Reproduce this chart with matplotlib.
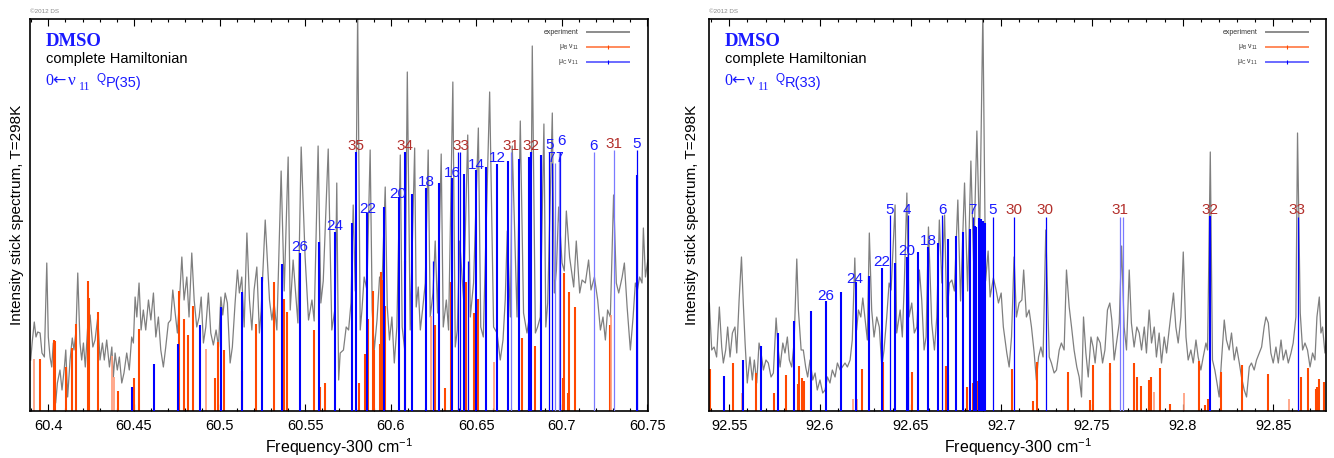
import matplotlib
matplotlib.use('Agg')
import matplotlib.pyplot as plt
from matplotlib.ticker import MultipleLocator, FuncFormatter
from matplotlib.lines import Line2D

plt.rcParams['font.family'] = ['Liberation Sans', 'DejaVu Sans']
plt.rcParams['mathtext.fontset'] = 'custom'
plt.rcParams['mathtext.rm'] = 'Liberation Sans'
plt.rcParams['mathtext.it'] = 'Liberation Sans:italic'
plt.rcParams['mathtext.bf'] = 'Liberation Sans:bold'

# ---------------- left panel: 0<-v11 QP(35) ----------------
qp_xlim = (60.3893, 60.7503)

qp_exp_f = [
    60.3897, 60.3906, 60.3918, 60.3928, 60.3938, 60.3952, 60.3963, 60.3977, 60.3991, 60.4000,
    60.4010, 60.4020, 60.4029, 60.4043, 60.4053, 60.4068, 60.4080, 60.4094, 60.4102, 60.4113,
    60.4127, 60.4140, 60.4150, 60.4162, 60.4172, 60.4185, 60.4195, 60.4205, 60.4216, 60.4232,
    60.4244, 60.4260, 60.4273, 60.4289, 60.4302, 60.4316, 60.4327, 60.4341, 60.4357, 60.4371,
    60.4380, 60.4390, 60.4403, 60.4415, 60.4429, 60.4442, 60.4458, 60.4473, 60.4487, 60.4497,
    60.4507, 60.4517, 60.4530, 60.4542, 60.4555, 60.4569, 60.4585, 60.4599, 60.4614, 60.4628,
    60.4643, 60.4657, 60.4672, 60.4686, 60.4701, 60.4715, 60.4727, 60.4741, 60.4754, 60.4766,
    60.4780, 60.4793, 60.4809, 60.4822, 60.4838, 60.4852, 60.4867, 60.4881, 60.4893, 60.4906,
    60.4920, 60.4935, 60.4949, 60.4964, 60.4980, 60.4994, 60.5008, 60.5019, 60.5033, 60.5046,
    60.5062, 60.5075, 60.5091, 60.5105, 60.5116, 60.5130, 60.5144, 60.5160, 60.5175, 60.5189,
    60.5202, 60.5218, 60.5233, 60.5243, 60.5267, 60.5292, 60.5306, 60.5319, 60.5335, 60.5360,
    60.5378, 60.5401, 60.5413, 60.5430, 60.5458, 60.5477, 60.5500, 60.5520, 60.5540, 60.5553,
    60.5576, 60.5592, 60.5606, 60.5635, 60.5656, 60.5676, 60.5685, 60.5696, 60.5705, 60.5724,
    60.5740, 60.5754, 60.5768, 60.5781, 60.5793, 60.5807, 60.5822, 60.5832, 60.5845, 60.5861,
    60.5880, 60.5892, 60.5904, 60.5920, 60.5935, 60.5949, 60.5968, 60.5980, 60.5993, 60.6007,
    60.6021, 60.6036, 60.6056, 60.6067, 60.6082, 60.6097, 60.6114, 60.6140, 60.6149, 60.6161,
    60.6173, 60.6186, 60.6202, 60.6219, 60.6231, 60.6247, 60.6260, 60.6274, 60.6295, 60.6307,
    60.6325, 60.6338, 60.6363, 60.6377, 60.6389, 60.6403, 60.6426, 60.6450, 60.6465, 60.6484,
    60.6512, 60.6526, 60.6541, 60.6578, 60.6601, 60.6621, 60.6640, 60.6656, 60.6669, 60.6681,
    60.6699, 60.6710, 60.6738, 60.6757, 60.6776, 60.6796, 60.6816, 60.6827, 60.6845, 60.6858,
    60.6874, 60.6895, 60.6906, 60.6917, 60.6944, 60.6956, 60.6968, 60.6981, 60.7001, 60.7014,
    60.7026, 60.7045, 60.7069, 60.7084, 60.7104, 60.7118, 60.7137, 60.7156, 60.7170, 60.7190,
    60.7209, 60.7225, 60.7240, 60.7254, 60.7267, 60.7283, 60.7302, 60.7318, 60.7332, 60.7352,
    60.7365, 60.7381, 60.7400, 60.7416, 60.7429, 60.7441, 60.7454, 60.7468, 60.7476, 60.7488, 60.7502]
qp_exp_i = [
    51, 69, 89, 74, 79, 78, 58, 54, 148, 74,
    54, 44, 68, 8, 28, 41, 21, 44, 61, 14,
    51, 73, 61, 81, 138, 68, 51, 68, 44, 90,
    96, 64, 71, 94, 51, 68, 51, 71, 44, 64,
    34, 58, 41, 54, 28, 38, 58, 41, 74, 68,
    114, 94, 128, 81, 101, 81, 111, 91, 118, 74,
    94, 61, 44, 64, 88, 91, 121, 98, 78, 111,
    154, 111, 134, 94, 158, 111, 84, 94, 114, 68,
    84, 118, 78, 66, 81, 64, 114, 96, 118, 108,
    48, 64, 108, 141, 118, 134, 84, 178, 111, 81,
    121, 144, 78, 100, 191, 111, 91, 108, 81, 240,
    120, 254, 101, 151, 88, 264, 154, 91, 111, 90,
    265, 108, 130, 262, 81, 104, 228, 31, 58, 61,
    84, 81, 108, 206, 120, 400, 81, 101, 134, 121,
    261, 101, 61, 91, 134, 124, 224, 104, 71, 94,
    48, 84, 256, 84, 61, 339, 81, 263, 104, 124,
    81, 101, 128, 261, 94, 118, 170, 98, 257, 84,
    111, 81, 329, 64, 81, 170, 111, 276, 94, 128,
    283, 84, 74, 319, 84, 78, 51, 71, 111, 180,
    94, 265, 94, 290, 98, 78, 101, 365, 78, 84,
    94, 287, 84, 108, 298, 118, 141, 204, 148, 140,
    200, 154, 124, 170, 118, 131, 128, 151, 121, 134,
    111, 81, 94, 71, 101, 94, 216, 128, 118, 134,
    148, 104, 61, 94, 128, 121, 134, 128, 183, 134, 151]

# mu_B sticks
qp_b_f = [60.3953, 60.4035, 60.4041, 60.4102, 60.4140, 60.4162, 60.4230, 60.4238, 60.4289, 60.4406,
          60.4501, 60.4530, 60.4764, 60.4793, 60.4815, 60.4844, 60.4974, 60.4994, 60.5029, 60.5130,
          60.5214, 60.5321, 60.5376, 60.5393, 60.5553, 60.5588, 60.5617, 60.5812, 60.5847, 60.5867,
          60.5899, 60.5905, 60.5935, 60.5944, 60.5949, 60.5964, 60.6081, 60.6256, 60.6319, 60.6352,
          60.6441, 60.6484, 60.6510, 60.6767, 60.6845, 60.7004, 60.7014, 60.7033, 60.7043, 60.7078,
          60.7283]
qp_b_i = [52, 71, 70, 44, 63, 87, 130, 113, 99, 20,
          33, 82, 120, 92, 76, 105, 33, 69, 61, 40,
          87, 129, 112, 99, 81, 24, 28, 28, 57, 92,
          120, 61, 67, 139, 131, 105, 150, 86, 23, 129,
          129, 98, 112, 73, 65, 33, 138, 18, 119, 104,
          86]
qp_b_weak_f = [60.3918, 60.4371, 60.4386, 60.4920, 60.6237, 60.6601, 60.7287]
qp_b_weak_i = [52, 55, 34, 62, 95, 49, 96]

# mu_C sticks
qp_c_f = [60.4487, 60.4620, 60.4756, 60.4885, 60.5006, 60.5132, 60.5248, 60.5364, 60.5471, 60.5579,
          60.5674, 60.5773, 60.5864, 60.5958, 60.6046, 60.6127, 60.6207, 60.6283, 60.6358, 60.6430,
          60.6498, 60.6558, 60.6621, 60.6685, 60.6747, 60.6809, 60.6878, 60.5798, 60.6085, 60.6821,
          60.7439]
qp_c_i = [24, 47, 67, 86, 104, 119, 134, 147, 158, 169,
          179, 188, 198, 204, 214, 217, 223, 228, 233, 237,
          241, 244, 247, 250, 252, 254, 256, 259, 259, 259,
          236]
qp_c_thin_f = [60.6396, 60.6406, 60.6926, 60.6942, 60.6991, 60.7439, 60.6247, 60.6452]
qp_c_thin_i = [259, 259, 259, 248, 259, 261, 150, 150]
qp_c_weak_f = [60.6704, 60.6961, 60.6981, 60.7185, 60.7306]
qp_c_weak_i = [259, 248, 259, 259, 261]

qp_lab = ['35', '34', '33', '31', '32', '5', '6', '7', '7', '6', '31', '5',
          '12', '14', '16', '18', '20', '22', '24', '26']
qp_lab_f = [60.5798, 60.6085, 60.6410, 60.6704, 60.6821, 60.6926, 60.6997, 60.6938, 60.6986, 60.7185,
            60.7306, 60.7439, 60.6621, 60.6498, 60.6358, 60.6207, 60.6042, 60.5864, 60.5676, 60.5471]
qp_lab_i = [265, 265, 265, 265, 265, 266, 270, 253, 253, 265,
            267, 267, 253, 246, 238, 229, 217, 202, 185, 164]
qp_lab_red = [True, True, True, True, True, False, False, False, False, False,
              True, False, False, False, False, False, False, False, False, False]

# ---------------- right panel: 0<-v11 QR(33) ----------------
qr_xlim = (92.5388, 92.8790)

qr_exp_f = [
    92.5390, 92.5403, 92.5416, 92.5430, 92.5445, 92.5458, 92.5467, 92.5480, 92.5491, 92.5504,
    92.5517, 92.5531, 92.5541, 92.5554, 92.5567, 92.5577, 92.5587, 92.5599, 92.5614, 92.5627,
    92.5638, 92.5651, 92.5664, 92.5675, 92.5688, 92.5702, 92.5715, 92.5730, 92.5743, 92.5758,
    92.5770, 92.5780, 92.5795, 92.5807, 92.5820, 92.5831, 92.5844, 92.5857, 92.5872, 92.5881,
    92.5896, 92.5908, 92.5921, 92.5932, 92.5945, 92.5960, 92.5973, 92.5985, 92.6000, 92.6015,
    92.6028, 92.6041, 92.6055, 92.6068, 92.6083, 92.6096, 92.6111, 92.6123, 92.6138, 92.6151,
    92.6166, 92.6178, 92.6192, 92.6202, 92.6212, 92.6225, 92.6236, 92.6249, 92.6261, 92.6272,
    92.6285, 92.6298, 92.6313, 92.6327, 92.6341, 92.6353, 92.6368, 92.6381, 92.6392, 92.6414,
    92.6423, 92.6442, 92.6454, 92.6465, 92.6479, 92.6491, 92.6506, 92.6520, 92.6534, 92.6548,
    92.6561, 92.6574, 92.6585, 92.6598, 92.6616, 92.6631, 92.6644, 92.6658, 92.6672, 92.6687,
    92.6699, 92.6714, 92.6727, 92.6741, 92.6760, 92.6775, 92.6797, 92.6814, 92.6832, 92.6847,
    92.6865, 92.6880, 92.6898, 92.6913, 92.6927, 92.6938, 92.6956, 92.6971, 92.6984, 92.6999,
    92.7011, 92.7030, 92.7043, 92.7056, 92.7070, 92.7083, 92.7098, 92.7113, 92.7123, 92.7138,
    92.7153, 92.7166, 92.7181, 92.7193, 92.7205, 92.7218, 92.7230, 92.7245, 92.7264, 92.7276,
    92.7291, 92.7304, 92.7319, 92.7331, 92.7346, 92.7359, 92.7374, 92.7387, 92.7401, 92.7416,
    92.7429, 92.7442, 92.7453, 92.7466, 92.7479, 92.7494, 92.7506, 92.7517, 92.7530, 92.7545,
    92.7558, 92.7571, 92.7585, 92.7598, 92.7609, 92.7622, 92.7635, 92.7650, 92.7663, 92.7677,
    92.7690, 92.7705, 92.7717, 92.7732, 92.7747, 92.7760, 92.7773, 92.7788, 92.7800, 92.7815,
    92.7828, 92.7843, 92.7855, 92.7870, 92.7883, 92.7898, 92.7911, 92.7925, 92.7938, 92.7949,
    92.7962, 92.7975, 92.7990, 92.8003, 92.8018, 92.8030, 92.8045, 92.8058, 92.8073, 92.8085,
    92.8100, 92.8113, 92.8128, 92.8137, 92.8152, 92.8164, 92.8177, 92.8189, 92.8201, 92.8214,
    92.8229, 92.8241, 92.8256, 92.8269, 92.8284, 92.8297, 92.8312, 92.8324, 92.8339, 92.8352,
    92.8367, 92.8379, 92.8394, 92.8407, 92.8422, 92.8435, 92.8449, 92.8459, 92.8472, 92.8486,
    92.8499, 92.8514, 92.8527, 92.8542, 92.8554, 92.8569, 92.8582, 92.8597, 92.8609, 92.8624,
    92.8633, 92.8648, 92.8661, 92.8674, 92.8688, 92.8702, 92.8716, 92.8729, 92.8740, 92.8753,
    92.8762, 92.8771, 92.8784, 92.8791]
qr_exp_i = [
    108, 61, 64, 54, 104, 64, 48, 61, 84, 54,
    78, 84, 58, 111, 154, 108, 68, 28, 54, 31,
    51, 28, 68, 58, 41, 51, 48, 34, 38, 93,
    61, 44, 68, 58, 74, 51, 44, 68, 152, 101,
    61, 61, 44, 34, 51, 31, 38, 21, 31, 18,
    21, 34, 28, 41, 34, 48, 41, 44, 48, 44,
    51, 71, 153, 81, 101, 94, 113, 91, 71, 178,
    101, 74, 94, 84, 44, 61, 94, 128, 121, 206,
    78, 101, 74, 128, 218, 94, 108, 78, 84, 141,
    111, 61, 74, 184, 88, 61, 94, 191, 128, 196,
    94, 128, 131, 120, 211, 110, 228, 120, 250, 150,
    280, 170, 400, 130, 160, 114, 133, 121, 108, 118,
    84, 58, 44, 74, 154, 94, 108, 111, 141, 94,
    101, 84, 58, 31, 54, 64, 54, 181, 54, 48,
    38, 41, 61, 68, 61, 141, 104, 84, 61, 44,
    34, 14, 94, 58, 34, 74, 64, 48, 74, 68,
    48, 61, 101, 108, 91, 51, 68, 88, 165, 84,
    61, 141, 88, 64, 84, 78, 61, 84, 58, 101,
    68, 84, 54, 78, 48, 74, 58, 81, 101, 118,
    84, 68, 94, 159, 74, 51, 61, 48, 71, 54,
    41, 54, 68, 61, 259, 51, 41, 28, 14, 51,
    91, 71, 61, 78, 51, 64, 48, 34, 21, 14,
    44, 48, 41, 51, 58, 64, 84, 94, 88, 58,
    48, 64, 48, 71, 51, 61, 48, 58, 68, 94,
    278, 98, 61, 68, 61, 44, 58, 51, 94, 114,
    78, 84, 58, 70]

qr_b_f = [92.5394, 92.5519, 92.5647, 92.5748, 92.5813, 92.5877, 92.5886, 92.5899, 92.5914, 92.6230,
          92.6349, 92.6487, 92.6509, 92.6695, 92.6705, 92.6809, 92.6846, 92.6873, 92.7058, 92.7175,
          92.7199, 92.7368, 92.7488, 92.7506, 92.7598, 92.7600, 92.7732, 92.7747, 92.7769, 92.7815,
          92.7824, 92.7874, 92.7929, 92.8091, 92.8122, 92.8137, 92.8210, 92.8326, 92.8471, 92.8652,
          92.8688, 92.8734, 92.8743, 92.8753, 92.8780]
qr_b_i = [42, 48, 38, 18, 36, 27, 45, 33, 30, 42,
          49, 34, 39, 45, 36, 24, 28, 30, 42, 10,
          49, 39, 11, 46, 48, 38, 48, 34, 25, 31,
          34, 43, 7, 50, 6, 12, 39, 46, 37, 34,
          43, 22, 24, 32, 29]
qr_b_weak_f = [92.5568, 92.6181, 92.6203, 92.7839, 92.8008, 92.8587]
qr_b_weak_i = [18, 12, 12, 19, 18, 12]

qr_c_f = [92.5472, 92.5574, 92.5673, 92.5767, 92.5859, 92.5949, 92.6033, 92.6116, 92.6197, 92.6272,
          92.6344, 92.6413, 92.6478, 92.6539, 92.6598, 92.6653, 92.6705, 92.6750, 92.6791, 92.6828,
          92.6852, 92.6861, 92.6874, 92.6881, 92.6888, 92.6901, 92.6910, 92.8151]
qr_c_i = [35, 51, 65, 78, 90, 100, 110, 119, 129, 135,
          143, 148, 154, 159, 164, 168, 172, 175, 179, 182,
          185, 184, 193, 190, 192, 190, 188, 195]
qr_c_thin_f = [92.6386, 92.6484, 92.6675, 92.6846, 92.6953, 92.7070, 92.7245, 92.8633]
qr_c_thin_i = [196, 196, 196, 194, 194, 194, 194, 194]
qr_c_weak_f = [92.7656, 92.7673]
qr_c_weak_i = [194, 194]

qr_lab = ['5', '4', '6', '7', '5', '30', '30', '31', '32', '33', '18', '20', '22', '24', '26']
qr_lab_f = [92.6386, 92.6480, 92.6673, 92.6839, 92.6949, 92.7070, 92.7241, 92.7652, 92.8148, 92.8628,
            92.6598, 92.6478, 92.6341, 92.6193, 92.6033]
qr_lab_i = [201, 201, 201, 201, 201, 201, 201, 201, 201, 201, 170, 160, 149, 132, 115]
qr_lab_red = [False, False, False, False, False, True, True, True, True, True,
              False, False, False, False, False]

BLUE = '#0000ff'
BLUE_L = '#7a7aff'
ORANGE = '#ff4800'
ORANGE_L = '#ff9a78'
RED = '#b3302c'
TXT_BLUE = '#1a1aff'
W, H = 1334, 458

fig = plt.figure(figsize=(W / 100, H / 100), dpi=100)


def put(x, y, s, **kw):
    # text at pixel position (x from left, y from top)
    kw.setdefault('va', 'baseline')
    fig.text(x / W, 1 - y / H, s, **kw)


def draw(ax, xlim, ef, ei, bf, bi, bwf, bwi, cf, ci, ctf, cti, cwf, cwi, lab, labf, labi, red):
    ax.plot(ef, ei, color='#7f7f7f', lw=0.9, zorder=1)
    ax.vlines(bf, 0, bi, colors=ORANGE, lw=1.5, zorder=2)
    ax.vlines(bwf, 0, bwi, colors=ORANGE_L, lw=1.2, zorder=2)
    ax.vlines(cf, 0, ci, colors=BLUE, lw=1.5, zorder=3)
    ax.vlines(ctf, 0, cti, colors=BLUE, lw=0.9, zorder=3)
    ax.vlines(cwf, 0, cwi, colors=BLUE_L, lw=0.9, zorder=3)
    for s, f, i, r in zip(lab, labf, labi, red):
        fs = 10 if s == '7' and xlim[0] < 90 else 11
        ax.text(f, i, s, ha='center', va='center', fontsize=fs,
                color=RED if r else TXT_BLUE, zorder=4)
    ax.set_xlim(*xlim)
    ax.set_ylim(0, 392)
    ax.xaxis.set_major_locator(MultipleLocator(0.05))
    ax.xaxis.set_minor_locator(MultipleLocator(0.01))
    ax.xaxis.set_major_formatter(FuncFormatter(lambda v, p: '%g' % round(v, 4)))
    ax.tick_params(axis='x', which='both', direction='in', top=True, width=0.8,
                   labelsize=10.5, pad=6)
    ax.tick_params(axis='x', which='major', length=5)
    ax.tick_params(axis='x', which='minor', length=2.5)
    ax.tick_params(axis='y', left=False, labelleft=False)
    for sp in ax.spines.values():
        sp.set_linewidth(1.2)
    ax.set_xlabel('Frequency-300 cm$^{-1}$', fontsize=11.5, labelpad=2)
    ax.set_ylabel('Intensity stick spectrum, T=298K', fontsize=11)


ax1 = fig.add_axes([30 / W, 47 / H, 618 / W, 392 / H])
ax2 = fig.add_axes([709 / W, 47 / H, 617 / W, 392 / H])

draw(ax1, qp_xlim, qp_exp_f, qp_exp_i, qp_b_f, qp_b_i, qp_b_weak_f, qp_b_weak_i,
     qp_c_f, qp_c_i, qp_c_thin_f, qp_c_thin_i, qp_c_weak_f, qp_c_weak_i,
     qp_lab, qp_lab_f, qp_lab_i, qp_lab_red)
draw(ax2, qr_xlim, qr_exp_f, qr_exp_i, qr_b_f, qr_b_i, qr_b_weak_f, qr_b_weak_i,
     qr_c_f, qr_c_i, qr_c_thin_f, qr_c_thin_i, qr_c_weak_f, qr_c_weak_i,
     qr_lab, qr_lab_f, qr_lab_i, qr_lab_red)
ax1.yaxis.set_label_coords(-0.010, 0.5)
ax2.yaxis.set_label_coords(-0.017, 0.5)

SERIF = ['Liberation Serif', 'DejaVu Serif']
for dx, branch in [(0, 'P(35)'), (679, 'R(33)')]:
    put(30 + dx, 13.3, '\u00a92012 DS', fontsize=4.5, color='#8a8a8a')
    put(46 + dx, 45.5, 'DMSO', family=SERIF, weight='bold', fontsize=13.5, color=TXT_BLUE)
    put(46 + dx, 63.3, 'complete Hamiltonian', fontsize=10.5, color='black')
    put(45.7 + dx, 85, '0', family=SERIF, fontsize=11.5, color=TXT_BLUE)
    put(52.5 + dx, 85.5, '\u2190', family=['DejaVu Sans'], fontsize=11.5, color=TXT_BLUE)
    put(67.5 + dx, 85, '\u03bd', family=SERIF, fontsize=12.5, color=TXT_BLUE)
    put(79 + dx, 90.5, '11', family=SERIF, fontsize=8.5, color=TXT_BLUE)
    put(96.5 + dx, 82, 'Q', fontsize=8.5, color=TXT_BLUE)
    put(105.5 + dx, 87.5, branch, fontsize=10.5, color=TXT_BLUE)
    # legend
    legend = [('experiment', '#8c8c8c', None),
              ('\u03bc$_\\mathregular{B}$ \u03bd$_\\mathregular{11}$', '#ff8a5c', '#ff4800'),
              ('\u03bc$_\\mathregular{C}$ \u03bd$_\\mathregular{11}$', '#6a6aff', '#0000ff')]
    for k, (name, col, mcol) in enumerate(legend):
        y = 32.3 + 14.8 * k
        put(579 + dx, y, name, fontsize=5, ha='right', va='center', color='#333333')
        fig.add_artist(Line2D([(587 + dx) / W, (629 + dx) / W], [1 - y / H, 1 - y / H],
                              transform=fig.transFigure, color=col, lw=1.4))
        if mcol:
            fig.add_artist(Line2D([(608 + dx) / W], [1 - y / H], transform=fig.transFigure,
                                  marker='|', ms=2.5, mew=0.8, color=mcol, lw=0))

fig.savefig('out.png', dpi=100)
